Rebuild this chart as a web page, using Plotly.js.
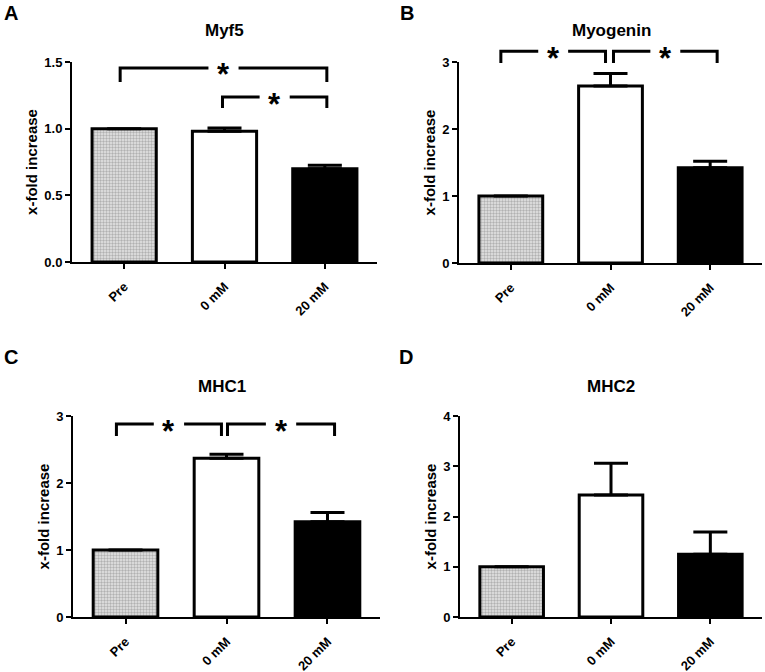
<!DOCTYPE html>
<html>
<head>
<meta charset="utf-8">
<script src="https://cdn.plot.ly/plotly-3.0.1.min.js"></script>
<style>html,body{margin:0;padding:0;background:#fff;}#chart{width:765px;height:672px;}</style>
</head>
<body>
<div id="chart"></div>
<script>
// ---- data ----
const categories = ["Pre", "0 mM", "20 mM"];
const panelLetters = ["A", "B", "C", "D"];
const panelTitles = ["Myf5", "Myogenin", "MHC1", "MHC2"];
const myf5Mean = [1.0, 0.98, 0.70];
const myf5Sem = [0, 0.025, 0.025];
const myogeninMean = [1.0, 2.64, 1.42];
const myogeninSem = [0, 0.19, 0.10];
const mhc1Mean = [1.0, 2.37, 1.42];
const mhc1Sem = [0, 0.06, 0.14];
const mhc2Mean = [1.0, 2.43, 1.25];
const mhc2Sem = [0, 0.63, 0.44];
const yMax = [1.5, 3, 3, 4];
const yDtick = [0.5, 1, 1, 1];
const yTickFormat = [".1f", "d", "d", "d"];
// significance brackets: [panel, left x, right x, bar level, end level]
const brackets = [
  [0, -0.04, 2.02, 1.455, 1.35],
  [0, 0.98, 2.02, 1.2375, 1.155],
  [1, -0.10, 0.95, 3.16, 2.985],
  [1, 1.03, 2.07, 3.16, 2.985],
  [2, -0.09, 0.95, 2.88, 2.70],
  [2, 1.01, 2.07, 2.88, 2.70]
];
const sigLabel = "*";

const means = [myf5Mean, myogeninMean, mhc1Mean, mhc2Mean];
const sems = [myf5Sem, myogeninSem, mhc1Sem, mhc2Sem];

// ---- layout geometry ----
const W = 765, H = 672;
const xDomPx = [[72, 377], [459, 762], [73, 380], [460, 762]];
const yDomPx = [[62, 262], [62, 263], [416, 617], [416, 617]];
const titlePos = [[224, 31], [611, 31], [222, 387], [611, 387]];
const letterPos = [[11, 13], [407, 13], [11, 357], [406, 357]];

const FONT = "Liberation Sans, Arial, sans-serif";
const xIdx = categories.map((c, i) => i);

const traces = [];
const layout = {
  width: W, height: H, autosize: false,
  margin: {l: 0, r: 0, t: 0, b: 0},
  paper_bgcolor: "#fff", plot_bgcolor: "#fff",
  showlegend: false,
  font: {family: FONT, color: "#000"},
  shapes: [], annotations: []
};

const yDomains = [];
for (let p = 0; p < 4; p++) {
  const sfx = p === 0 ? "" : String(p + 1);
  traces.push({
    type: "bar",
    x: xIdx,
    y: means[p],
    width: 0.64,
    xaxis: "x" + sfx, yaxis: "y" + sfx,
    marker: {
      color: ["#d9d9d9", "#ffffff", "#000000"],
      line: {color: "#000", width: 3},
      pattern: {shape: ["+", "", ""], fgcolor: "#c4c4c4", size: 3, solidity: 0.2, fillmode: "overlay"}
    },
    error_y: {
      type: "data", symmetric: false,
      array: sems[p], arrayminus: sems[p].map(() => 0),
      color: "#000", thickness: 3, width: 17
    },
    hoverinfo: "skip"
  });
  const xd = xDomPx[p], yd = yDomPx[p];
  const yDom = [1 - yd[1] / H, 1 - yd[0] / H];
  yDomains.push(yDom);
  layout["xaxis" + sfx] = {
    domain: [xd[0] / W, xd[1] / W],
    anchor: "y" + sfx,
    range: [-0.52, 2.52],
    tickmode: "array", tickvals: xIdx, ticktext: categories,
    tickangle: -45,
    showline: true, linecolor: "#000", linewidth: 2,
    ticks: "outside", ticklen: 5, tickwidth: 2, tickcolor: "#000",
    ticklabelstandoff: 5,
    showgrid: false, zeroline: false, fixedrange: true,
    tickfont: {family: FONT, size: 13, weight: "bold", color: "#000"}
  };
  layout["yaxis" + sfx] = {
    domain: yDom,
    anchor: "x" + sfx,
    range: [0, yMax[p]], dtick: yDtick[p], tick0: 0, tickformat: yTickFormat[p],
    showline: true, linecolor: "#000", linewidth: 2,
    ticks: "outside", ticklen: 5, tickwidth: 2, tickcolor: "#000",
    showgrid: false, zeroline: false, fixedrange: true,
    tickfont: {family: FONT, size: 13, weight: "bold", color: "#000"},
    title: {text: "x-fold increase", font: {family: FONT, size: 15, weight: "bold", color: "#000"}, standoff: 3}
  };
  layout.annotations.push({
    xref: "paper", yref: "paper", x: titlePos[p][0] / W, y: 1 - titlePos[p][1] / H,
    xanchor: "center", yanchor: "middle", showarrow: false,
    text: panelTitles[p], font: {family: FONT, size: 17, weight: "bold", color: "#000"}
  });
  layout.annotations.push({
    xref: "paper", yref: "paper", x: letterPos[p][0] / W, y: 1 - letterPos[p][1] / H,
    xanchor: "center", yanchor: "middle", showarrow: false,
    text: panelLetters[p], font: {family: FONT, size: 20, weight: "bold", color: "#000"}
  });
}

// value on a panel's y axis -> paper fraction (so brackets above the axis range are not clipped)
function yPaper(p, v) {
  const d = yDomains[p];
  return d[0] + (v / yMax[p]) * (d[1] - d[0]);
}

const GAP = 0.15;
brackets.forEach(b => {
  const [p, x0, x1, yTop, yEnd] = b;
  const sfx = p === 0 ? "" : String(p + 1);
  const xm = (x0 + x1) / 2;
  const yt = yPaper(p, yTop), ye = yPaper(p, yEnd);
  const lineStyle = {color: "#000", width: 3};
  layout.shapes.push({
    type: "path", xref: "x" + sfx, yref: "paper", layer: "above",
    path: `M ${x0},${ye} L ${x0},${yt} L ${xm - GAP},${yt}`, line: lineStyle
  });
  layout.shapes.push({
    type: "path", xref: "x" + sfx, yref: "paper", layer: "above",
    path: `M ${xm + GAP},${yt} L ${x1},${yt} L ${x1},${ye}`, line: lineStyle
  });
  layout.annotations.push({
    xref: "x" + sfx, yref: "paper", x: xm, y: yt,
    xanchor: "center", yanchor: "middle", yshift: -7, showarrow: false,
    text: sigLabel, font: {family: FONT, size: 31, weight: "bold", color: "#000"}
  });
});

Plotly.newPlot("chart", traces, layout, {staticPlot: true, displayModeBar: false});
</script>
</body>
</html>
